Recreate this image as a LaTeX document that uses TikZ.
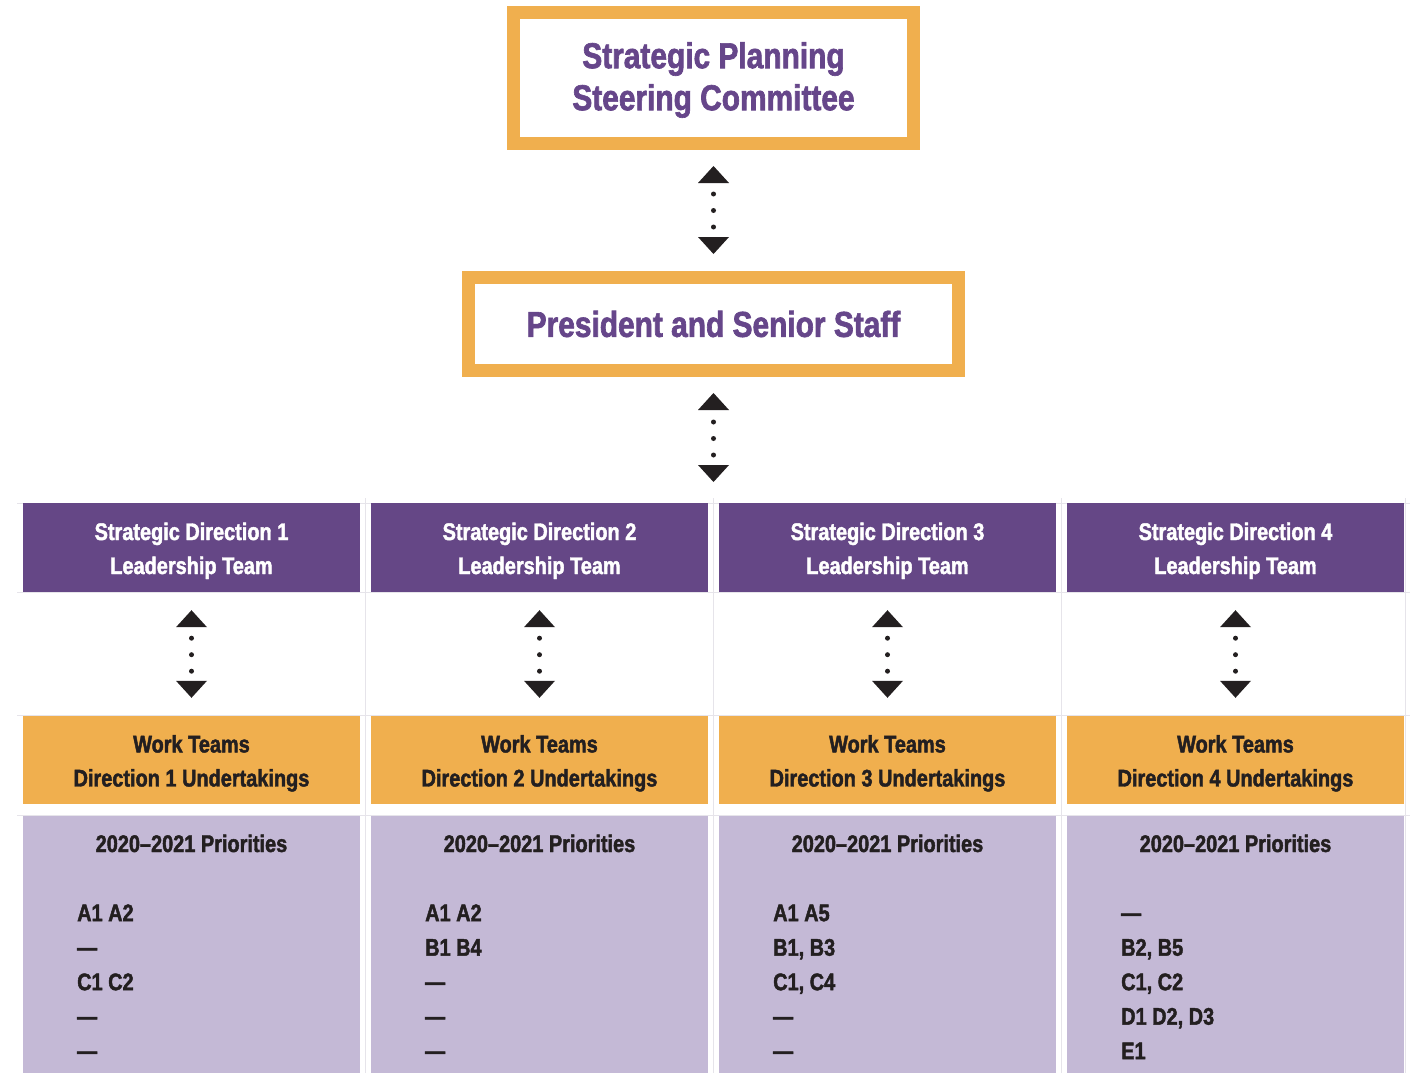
\documentclass[tikz,border=0pt]{standalone}
\usepackage{fontspec}
\setmainfont{Liberation Sans}[UprightFont={* Bold}, BoldFont={* Bold}, FakeStretch=0.83, FakeBold=1.8]
\usetikzlibrary{arrows.meta}
\definecolor{org}{RGB}{240,175,78}
\definecolor{pur}{RGB}{101,71,134}
\definecolor{lav}{RGB}{196,185,214}
\definecolor{ink}{RGB}{35,31,32}
\definecolor{tpur}{RGB}{102,70,138}
\definecolor{gridc}{RGB}{230,228,234}
\newcommand\titlefont{\fontsize{36}{42}\selectfont}
\newcommand\cellfont{\fontsize{24}{34}\selectfont}
\newcommand\listfont{\fontsize{24}{34.5}\selectfont}
\newcommand\topln{\rule{0pt}{24pt}}
\newcommand\toptitle{\rule{0pt}{30pt}}
\begin{document}
\begin{tikzpicture}[x=1pt,y=-1pt,
  frame/.style={draw=org, line width=13pt, fill=white, inner sep=0pt, align=center, text=tpur, font=\titlefont},
  cell/.style={minimum width=337pt, inner sep=0pt, align=center, font=\cellfont},
  lead/.style={cell, fill=pur, text=white, minimum height=89pt},
  work/.style={cell, fill=org, text=ink, minimum height=88pt},
  prio/.style={cell, fill=lav, minimum height=257pt},
  prititle/.style={inner sep=0pt, anchor=base, text=ink, font=\cellfont},
  prilist/.style={inner sep=0pt, anchor=north west, align=left, text=ink, font=\listfont},
  link/.style={line width=5pt, line cap=round, color=ink, dash pattern=on 0pt off 16.5pt,
    >={Triangle[width=31pt,length=17pt,line width=0pt]}, <->},
  gridline/.style={draw=gridc, line width=0.8pt}
]
\useasboundingbox (0,0) rectangle (1413,1073);
\fill[white] (0,0) rectangle (1413,1073);

% faint table grid
\foreach \yy in {503,592.5,715.5,815.5} \draw[gridline] (17,\yy) -- (1410,\yy);
\foreach \xx in {365.5,713.5,1061.5,1405.5} \draw[gridline] (\xx,498) -- (\xx,1073);

% top boxes
\node[frame, minimum width=400pt, minimum height=131pt] (spsc) at (713.5,78) {\toptitle Strategic Planning\\Steering Committee};
\node[frame, minimum width=490pt, minimum height=93pt] (pres) at (713.5,324) {President and Senior Staff};
\coordinate (rowtop) at (713.5,503);

% columns
\foreach \i/\cx in {1/191.5,2/539.5,3/887.5,4/1235.5}{
  \node[lead] (lead\i) at (\cx,547.5) {\topln Strategic Direction \i\\Leadership Team};
  \node[work] (work\i) at (\cx,760) {\topln Work Teams\\Direction \i\ Undertakings};
  \node[prio] (prio\i) at (\cx,944.5) {};
  \node[prititle] (pt\i) at (\cx,852) {2020–2021 Priorities};
  \draw[link, shorten <=18pt, shorten >=18pt, dash phase=5.5pt] (lead\i.south) -- (work\i.north);
}

\node[prilist] (pl1) at (77,896.85) {\strut A1 A2\\—\\C1 C2\\—\\—};
\node[prilist] (pl2) at (425,896.85) {\strut A1 A2\\B1 B4\\—\\—\\—};
\node[prilist] (pl3) at (773,896.85) {\strut A1 A5\\B1, B3\\C1, C4\\—\\—};
\node[prilist] (pl4) at (1121,896.85) {\strut —\\B2, B5\\C1, C2\\D1 D2, D3\\E1};

% links
\draw[link, shorten <=16pt, shorten >=17pt, dash phase=5.5pt] (spsc.south) -- (pres.north);
\draw[link, shorten <=16pt, shorten >=21pt, dash phase=4.5pt] (pres.south) -- (rowtop);
\end{tikzpicture}
\end{document}
